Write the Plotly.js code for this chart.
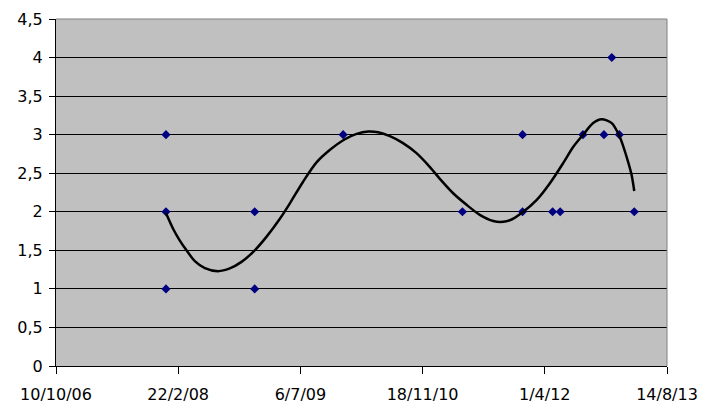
<!DOCTYPE html>
<html><head><meta charset="utf-8">
<script src="https://cdn.plot.ly/plotly-3.0.1.min.js"></script>
<style>html,body{margin:0;padding:0;background:#fff;}#chart{width:701px;height:404px;}</style>
</head><body><div id="chart"></div>
<script>
// observations
const pointDates = ['2008-01-03','2008-01-03','2008-01-03','2008-12-31','2008-12-31','2009-12-28','2011-04-30','2012-01-01','2012-01-01','2012-05-03','2012-06-03','2012-09-04','2012-11-29','2012-12-31','2013-01-31','2013-04-02'];
const pointValues = [1,2,3,1,2,3,2,2,3,2,2,3,3,4,3,2];

// polynomial trendline
const trendDates = ['2008-01-02','2008-02-01','2008-02-28','2008-03-27','2008-04-30','2008-06-10','2008-08-03','2008-09-20','2008-11-07','2008-12-25',
  '2009-02-17','2009-04-13','2009-05-24','2009-07-17','2009-09-10','2009-11-03','2010-01-04','2010-02-21','2010-04-09','2010-05-20',
  '2010-07-07','2010-08-30','2010-10-24','2010-12-18','2011-02-04','2011-03-23','2011-05-17','2011-07-10','2011-09-03','2011-10-14',
  '2011-11-17','2012-01-04','2012-02-27','2012-04-22','2012-06-15','2012-07-26','2012-09-05','2012-10-16','2012-11-19','2012-12-31',
  '2013-02-02','2013-03-02','2013-03-22','2013-04-02'];
const trendValues = [1.99,1.78,1.63,1.50,1.36,1.27,1.23,1.265,1.35,1.48,
  1.675,1.91,2.11,2.39,2.64,2.80,2.94,3.01,3.04,3.03,
  2.98,2.89,2.76,2.58,2.40,2.24,2.09,1.96,1.88,1.87,
  1.90,2.00,2.15,2.37,2.63,2.84,3.00,3.15,3.20,3.15,
  2.97,2.71,2.48,2.27];

const xTickDates = ['2006-10-10','2008-02-22','2009-07-06','2010-11-18','2012-04-01','2013-08-14'];
const xTickLabels = ['10/10/06','22/2/08','6/7/09','18/11/10','1/4/12','14/8/13'];
const yTickValues = [0,0.5,1,1.5,2,2.5,3,3.5,4,4.5];
const yTickLabels = ['0','0,5','1','1,5','2','2,5','3','3,5','4','4,5'];

const traces = [
  {x: pointDates, y: pointValues, type: 'scatter', mode: 'markers',
   marker: {symbol: 'diamond', size: 7, color: '#000080'}, hoverinfo: 'x+y'},
  {x: trendDates, y: trendValues, type: 'scatter', mode: 'lines',
   line: {color: '#000000', width: 2.5, shape: 'spline', smoothing: 0.8}}
];

const layout = {
  width: 701, height: 404,
  margin: {l: 56, r: 34, t: 19, b: 38, pad: 0},
  paper_bgcolor: '#ffffff',
  plot_bgcolor: '#c0c0c0',
  showlegend: false,
  font: {family: '"DejaVu Sans", Verdana, sans-serif', size: 16, color: '#000'},
  xaxis: {
    type: 'date', range: [xTickDates[0], xTickDates[xTickDates.length-1]],
    tickmode: 'array', tickvals: xTickDates, ticktext: xTickLabels,
    showgrid: false, zeroline: false,
    showline: true, linecolor: '#000', linewidth: 1,
    ticks: 'outside', ticklen: 7, tickcolor: '#000', tickwidth: 1,
    ticklabelstandoff: 7
  },
  yaxis: {
    range: [0, 4.5],
    tickmode: 'array', tickvals: yTickValues, ticktext: yTickLabels,
    showgrid: true, gridcolor: '#000', gridwidth: 1, zeroline: false,
    showline: true, linecolor: '#000', linewidth: 1,
    ticks: 'outside', ticklen: 6, tickcolor: '#000', tickwidth: 1,
    ticklabelstandoff: 3
  },
  shapes: [
    {type: 'line', xref: 'paper', yref: 'paper', x0: 0, x1: 1, y0: 1, y1: 1, line: {color: '#808080', width: 1}, layer: 'above'},
    {type: 'line', xref: 'paper', yref: 'paper', x0: 1, x1: 1, y0: 0, y1: 1, line: {color: '#808080', width: 1}, layer: 'above'}
  ]
};

Plotly.newPlot('chart', traces, layout, {staticPlot: true, displayModeBar: false});
</script>
</body></html>
